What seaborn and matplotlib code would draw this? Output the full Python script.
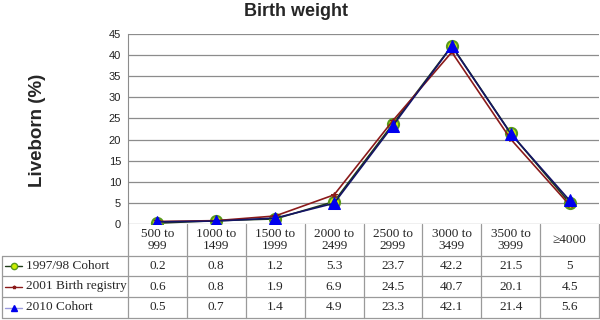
import matplotlib
matplotlib.use("Agg")
import matplotlib.pyplot as plt
import seaborn as sns
import pandas as pd
from matplotlib.lines import Line2D

bands = ["500 to\n999", "1000 to\n1499", "1500 to\n1999", "2000 to\n2499",
         "2500 to\n2999", "3000 to\n3499", "3500 to\n3999", "\u22654000"]
cohort_1997 = [0.2, 0.8, 1.2, 5.3, 23.7, 42.2, 21.5, 5]
registry_2001 = [0.6, 0.8, 1.9, 6.9, 24.5, 40.7, 20.1, 4.5]
cohort_2010 = [0.5, 0.7, 1.4, 4.9, 23.3, 42.1, 21.4, 5.6]
series_names = ["1997/98 Cohort", "2001 Birth registry", "2010 Cohort"]
series_vals = [cohort_1997, registry_2001, cohort_2010]

styles = [
    dict(color="#1f3d1a", marker="o", markersize=8, markerfacecolor="#ccee00",
         markeredgecolor="#5a9a1a", markeredgewidth=1.5, linewidth=1.2),
    dict(color="#8b1a1a", marker="*", markersize=4, markerfacecolor="#8b1a1a",
         markeredgecolor="#8b1a1a", linewidth=1.2),
    dict(color="#141466", marker="^", markersize=8, markerfacecolor="#0000ee",
         markeredgecolor="#0000ee", linewidth=1.2),
]
key_line_colors = ["#1f3d1a", "#8b1a1a", "#9999dd"]
key_marker_sizes = [4.5, 2.5, 4.5]

sns.set_style("white")
plt.rcParams["font.family"] = ["Liberation Sans", "DejaVu Sans"]

W, H = 600, 320
fig = plt.figure(figsize=(6, 3.2), dpi=100)
x0, x1, ytop, ybot = 128, 599, 34, 224
ax = fig.add_axes([x0 / W, 1 - ybot / H, (x1 - x0) / W, (ybot - ytop) / H])

pos = list(range(len(bands)))
for name, vals, st in zip(series_names, series_vals, styles):
    df = pd.DataFrame({"x": pos, "y": vals})
    sns.lineplot(data=df, x="x", y="y", ax=ax, sort=False, **st)

ax.set_xlim(-0.5, len(bands) - 0.5)
ax.set_ylim(0, 45)
ax.set_yticks(range(0, 46, 5))
ax.set_xticks([])
ax.set_xlabel("")
ax.set_ylabel("")
ax.yaxis.grid(True, color="#8c8c8c", linewidth=0.9)
ax.set_axisbelow(True)
for s in ["top", "right", "bottom"]:
    ax.spines[s].set_visible(False)
ax.spines["left"].set_color("#8c8c8c")
ax.tick_params(axis="y", labelsize=8, length=0, pad=5, labelcolor="#222222")

fig.text(296 / W, 1 - 12 / H, "Birth weight", ha="center", va="center",
         fontsize=13, fontweight="bold")
fig.text(38 / W, 1 - 130 / H, "Liveborn (%)", ha="center", va="center",
         rotation=90, fontsize=13.5, fontweight="bold")

# data table under the chart
gc = "#9a9a9a"
colw = (x1 - x0) / len(bands)
row_y = [256, 276, 297, 318]
serif = ["Liberation Serif", "DejaVu Serif"]


def fx(px):
    return px / W


def fy(py):
    return 1 - py / H


for i in range(len(bands) + 1):
    xx = x0 + i * colw
    fig.add_artist(Line2D([fx(xx)] * 2, [fy(ybot), fy(318)], color=gc, lw=0.9))
fig.add_artist(Line2D([fx(2)] * 2, [fy(256), fy(318)], color=gc, lw=0.9))
for yy in row_y:
    fig.add_artist(Line2D([fx(2), fx(x1)], [fy(yy)] * 2, color=gc, lw=0.9))

for i, b in enumerate(bands):
    cx = x0 + (i + 0.5) * colw
    fig.text(fx(cx), fy(240), b, ha="center", va="center", fontsize=9.5,
             family=serif, linespacing=1.0)

for r, (name, vals, st) in enumerate(zip(series_names, series_vals, styles)):
    cy = (row_y[r] + row_y[r + 1]) / 2
    for i, v in enumerate(vals):
        cx = x0 + (i + 0.5) * colw
        fig.text(fx(cx), fy(cy), f"{v:g}", ha="center", va="center",
                 fontsize=9.5, family=serif)
    key = dict(st)
    key["color"] = key_line_colors[r]
    key["markersize"] = key_marker_sizes[r]
    key["markeredgewidth"] = 1.0
    key["linewidth"] = 1.0
    fig.add_artist(Line2D([fx(5), fx(13.5), fx(22)], [fy(cy)] * 3,
                          markevery=[1], **key))
    fig.text(fx(26), fy(cy), name, ha="left", va="center", fontsize=9.5, family=serif)

fig.savefig("out.png", dpi=100)
